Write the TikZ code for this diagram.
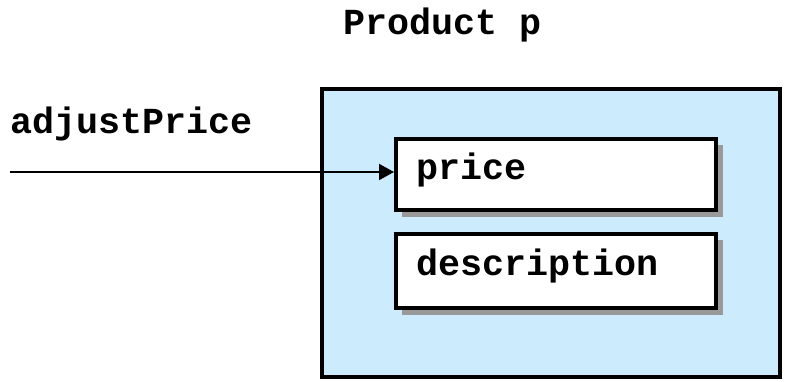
\documentclass[tikz,border=0pt]{standalone}
\usepackage{fontspec}
\setmonofont{Liberation Mono}
\usetikzlibrary{arrows.meta}
\definecolor{objblue}{HTML}{CCEBFC}
\definecolor{shadowgrey}{HTML}{999999}
\tikzset{
  lbl/.style={font=\ttfamily\bfseries\fontsize{36.7}{40}\selectfont, inner sep=0pt, anchor=base west},
  field/.style={draw=black, line width=4pt, fill=white},
  shadowbox/.style={fill=shadowgrey, draw=none},
  conn/.style={line width=2pt, -{Triangle[length=15pt,width=16pt]}}
}
\begin{document}
\begin{tikzpicture}[x=1pt,y=-1pt]
\useasboundingbox (0,0) rectangle (785,381);
% outer object
\draw[line width=4pt, fill=objblue] (322,89) rectangle (780,377);
% shadows
\fill[shadowgrey] (402,145) rectangle (723,217);
\fill[shadowgrey] (402,240) rectangle (723,315);
% field boxes
\node[field, minimum width=320pt, minimum height=71pt, anchor=north west, inner sep=0pt] (price) at (394,137) {};
\node[field, minimum width=320pt, minimum height=74pt, anchor=north west, inner sep=0pt] (desc) at (394,232) {};
\node[lbl] (pricetxt) at (416,179) {price};
\node[lbl] (desctxt) at (416,275) {description};
% titles
\node[lbl] (title) at (343,34) {Product p};
\node[lbl] (adj) at (10,133) {adjustPrice};
% arrow
\coordinate (start) at (10,172);
\draw[conn] (start) -- (price.west |- start);
\end{tikzpicture}
\end{document}
